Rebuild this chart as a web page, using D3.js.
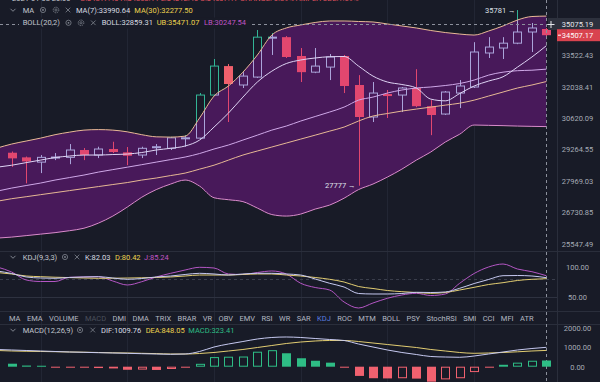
<!DOCTYPE html>
<html><head><meta charset="utf-8">
<script src="https://cdn.jsdelivr.net/npm/d3@7"></script>
<style>
html,body{margin:0;padding:0;background:#181b27;overflow:hidden}
svg{display:block;font-family:Roboto,"Noto Sans",sans-serif}
</style></head>
<body><svg id="c" width="600" height="382"></svg>
<script>
// ---------- DATA ----------
const opens  = [29130,28936,28738,28928,28936,29244,29033,29286,29147,29033,29358,29316,29729,29750,31655,33005,32117,32486,34388,34410,33488,32717,32957,33488,32117,30669,31701,31655,31978,31150,30801,31747,32024,33633,33875,34113,34666,34817];
const highs  = [29181,28970,29033,29117,29497,29328,29383,29594,29370,29383,29497,29805,29877,31747,33343,33102,32717,34767,34615,34463,33875,33875,33585,33537,32578,32255,31886,32024,32857,31421,31839,32347,34162,34410,34410,35781,35120,34868];
const lows   = [28541,27872,28287,28822,28653,28822,28906,29117,28611,28906,29033,29244,29383,29708,31609,30448,31978,32440,33537,33392,32255,32671,32347,31747,27777,30448,30624,30889,31105,29877,30757,31066,31978,33392,33343,34064,33681,34312];
const closes = [28894,28767,28936,28949,29244,29033,29286,29160,29003,29316,29383,29763,29763,31655,33005,32163,32532,34410,34410,33440,32717,33005,33440,32071,30669,31747,31609,31978,31150,30757,31793,32071,33681,33923,34113,34666,34868,34507.17];

// indicator series start one candle before the first visible candle
const ma7     = [28529,28610,28717,28822,28928,28991,29033,29033,29054,29075,29138,29244,29316,29413,29666,30227,30845,31562,32255,32763,33126,33295,33392,33454,33464,33005,32532,32255,32140,31978,31470,31392,31724,32071,32301,32500,32957,33440,33990.64];
const ma30    = [27163,27262,27340,27421,27501,27582,27663,27743,27824,27904,28005,28086,28187,28287,28449,28611,28822,29033,29202,29370,29539,29708,29877,30051,30227,30492,30713,30823,30933,31022,31110,31198,31285,31424,31609,31793,31978,32117,32277.50];
const bollMid = [27562,27683,27784,27884,28005,28106,28207,28328,28429,28529,28632,28738,28843,28949,29096,29286,29455,29666,29877,30095,30271,30492,30691,30889,31110,31424,31562,31747,31886,31978,32024,32093,32186,32347,32578,32717,32786,32809,32859.31];
const bollUp  = [29328,29497,29624,29750,29897,30007,30095,30117,30095,30020,29897,29805,29792,29834,30624,31609,32071,32717,33537,34514,34868,35019,35146,35222,35222,35196,35171,35070,34969,34868,34741,34640,34564,34514,34716,34969,35272,35449,35471.07];
const bollLow = [25757,25794,25849,25905,25960,26033,26126,26319,26588,26935,27320,27622,27844,28005,27763,27300,27222,27147,26897,26646,26588,26665,26858,27012,27282,27622,27844,28126,28449,28822,29160,29581,29918,30316,30302,30289,30271,30258,30247.54];

const kLine = [93.0,88.9,83.2,81.5,81.0,82.4,83.2,83.7,81.5,79.4,80.7,83.2,84.8,87.3,89.2,88.1,86.4,88.1,89.2,89.2,88.1,86.4,79.9,72.9,66.8,56.2,55.4,55.4,56.2,58.2,57.8,58.7,64.7,72.5,79.1,85.3,85.6,84.8,82.03];
const dLine = [90.5,88.1,84.8,83.7,82.8,82.2,81.5,81.0,81.2,81.5,81.9,82.4,83.2,84.8,86.4,86.4,86.4,87.3,88.1,88.1,86.4,84.8,82.4,79.4,75.0,67.6,64.4,61.1,59.2,57.8,56.5,57.8,61.9,66.3,70.9,73.9,77.5,79.4,80.42];
const jLine = [99.5,91.3,78.3,75.8,75.8,82.7,83.2,83.7,76.6,70.1,75.5,83.2,89.2,94.6,99.0,97.9,88.1,87.3,90.5,93.0,88.1,72.9,66.0,61.9,42.3,32.5,40.7,48.4,53.8,56.5,52.9,55.4,72.9,88.9,99.5,104.4,96.2,91.8,85.24];

const dif = [896,870,844,818,792,766,750,729,714,698,677,661,646,661,792,1026,1182,1312,1443,1521,1547,1521,1469,1417,1365,1182,1026,870,740,635,531,505,490,557,661,766,870,948,1009.76];
const dea = [844,818,802,792,781,766,755,740,724,714,698,682,661,661,688,740,818,896,1000,1104,1208,1286,1339,1365,1365,1312,1234,1156,1078,1000,896,818,740,698,714,740,776,818,848.05];
const macdHist = [156,60,50,-30,-40,-20,-70,-90,-160,-150,-170,-120,-40,150,500,520,530,780,860,700,440,310,210,-30,-480,-600,-610,-600,-620,-780,-660,-600,-280,-40,100,210,310,323.41];

const priceTicks = [35075.19,33522.43,32038.41,30620.09,29264.55,27969.03,26730.85,25547.49];
const kdjTicks = [100,50];
const macdTicks = [2000,1000,0];
const tabs = ["MA","EMA","VOLUME","MACD","DMI","DMA","TRIX","BRAR","VR","OBV","EMV","RSI","WR","SAR","KDJ","ROC","MTM","BOLL","PSY","StochRSI","SMI","CCI","MFI","ATR"];
const crossPrice = 35075.19, lastPrice = 34507.17;

// ---------- SETUP ----------
const BG = "#181b27";
const svg = d3.select("#c");
svg.append("rect").attr("width",600).attr("height",382).attr("fill",BG);
const defs = svg.append("defs");
const n = opens.length;
const idx = d3.range(n);
const xs = d3.scaleLinear().domain([0, n-1]).range([11.7, 546.4]);
const lx = (d,i) => xs(i-1);
const yP = d3.scaleLog().domain([25319, 36303]).range([250, 0]);
const yK = d3.scaleLinear().domain([50,100]).range([297.3,266.7]);
const yM = d3.scaleLinear().domain([0,2000]).range([366.7,328.3]);
const FS = 7.5;

defs.append("clipPath").attr("id","cMain").append("rect").attr("x",0).attr("y",0).attr("width",557).attr("height",251);
defs.append("clipPath").attr("id","cKdj").append("rect").attr("x",0).attr("y",252).attr("width",557).attr("height",59);
defs.append("clipPath").attr("id","cMacd").append("rect").attr("x",0).attr("y",325).attr("width",557).attr("height",57);

const bandArea = d3.area().x(lx).y0((d,i)=>yP(bollLow[i])).y1((d,i)=>yP(bollUp[i])).curve(d3.curveMonotoneX);
const aboveArea = d3.area().x(lx).y0(0).y1((d,i)=>yP(bollUp[i])).curve(d3.curveMonotoneX);
const belowArea = d3.area().x(lx).y0((d,i)=>yP(bollLow[i])).y1(251).curve(d3.curveMonotoneX);
const lastX = xs(n-1);
const cin = defs.append("clipPath").attr("id","cIn");
cin.append("path").attr("d", bandArea(bollUp));
cin.append("rect").attr("x",lastX).attr("y",yP(bollUp[n])).attr("width",12).attr("height",yP(bollLow[n])-yP(bollUp[n]));
const cout = defs.append("clipPath").attr("id","cOut");
cout.append("path").attr("d", aboveArea(bollUp));
cout.append("path").attr("d", belowArea(bollUp));

// ---------- GRID ----------
const grid = svg.append("g");
[2,8,14,20,26,32].forEach(i=>{
  const x = Math.round(xs(i))+0.5;
  grid.append("line").attr("x1",x).attr("x2",x).attr("y1",0).attr("y2",382).attr("stroke","#222634").attr("stroke-width",1);
});
[251.5,311.5,324.5].forEach(y=>{
  grid.append("line").attr("x1",0).attr("x2",600).attr("y1",y).attr("y2",y).attr("stroke","#2a2e3b");
});
grid.append("line").attr("x1",557.5).attr("x2",557.5).attr("y1",0).attr("y2",382).attr("stroke","#2a2e3b");
grid.append("line").attr("x1",0).attr("x2",557).attr("y1",Math.round(yK(50))+0.5).attr("y2",Math.round(yK(50))+0.5).attr("stroke","#2e3240");
grid.append("line").attr("x1",0).attr("x2",557).attr("y1",Math.round(yK(80))+0.5).attr("y2",Math.round(yK(80))+0.5).attr("stroke","#3a3e4c").attr("stroke-dasharray","3,3");

// ---------- MAIN PANEL ----------
const main = svg.append("g").attr("clip-path","url(#cMain)");
main.append("path").attr("d", bandArea(bollUp)).attr("fill","#48195a");

function drawCandles(g, upC, downC){
  idx.forEach(i=>{
    const cx = Math.round(xs(i))+0.5, o=opens[i], c=closes[i], up = c>=o;
    const yt = yP(Math.max(o,c)), yb = yP(Math.min(o,c));
    const h = Math.max(1, yb-yt);
    const col = up?upC:downC;
    if(up){
      g.append("line").attr("x1",cx).attr("x2",cx).attr("y1",yP(highs[i])).attr("y2",yt).attr("stroke",col);
      g.append("line").attr("x1",cx).attr("x2",cx).attr("y1",yt+h).attr("y2",yP(lows[i])).attr("stroke",col);
      g.append("rect").attr("x",cx-4).attr("y",yt).attr("width",8).attr("height",h).attr("fill","none").attr("stroke",col);
    } else {
      g.append("line").attr("x1",cx).attr("x2",cx).attr("y1",yP(highs[i])).attr("y2",yP(lows[i])).attr("stroke",col);
      g.append("rect").attr("x",cx-4.5).attr("y",yt).attr("width",9).attr("height",h).attr("fill",col);
    }
  });
}
drawCandles(main.append("g").attr("clip-path","url(#cIn)"), "#aaa4da", "#e2476f");
drawCandles(main.append("g").attr("clip-path","url(#cOut)"), "#33b596", "#f0606c");

const lineGen = arr => d3.line().x(lx).y((d,i)=>yP(arr[i])).curve(d3.curveMonotoneX)(arr);
[[bollLow,"#d98bcb"],[bollUp,"#e9b996"],[ma30,"#e6b894"],[bollMid,"#cfa8e8"],[ma7,"#ded4f4"]].forEach(([a,c])=>{
  main.append("path").attr("d", lineGen(a)).attr("fill","none").attr("stroke",c).attr("stroke-width",1);
});

// annotations
main.append("text").attr("x",xs(35)-2).attr("y",yP(highs[35])+3).attr("text-anchor","end")
  .attr("font-size",FS).attr("fill","#dfe2e8").text("35781 →");
main.append("text").attr("x",xs(24)-3).attr("y",yP(lows[24])+2).attr("text-anchor","end")
  .attr("font-size",FS).attr("fill","#dfe2e8").text("27777 →");

// crosshair
const cy = Math.round(yP(crossPrice))+0.5;
svg.append("line").attr("x1",0).attr("x2",548).attr("y1",cy).attr("y2",cy).attr("stroke","#8c909c").attr("stroke-dasharray","3,3");
svg.append("line").attr("x1",Math.round(lastX)+0.5).attr("x2",Math.round(lastX)+0.5).attr("y1",0).attr("y2",382).attr("stroke","#8c909c").attr("stroke-dasharray","3,3");

// ---------- PRICE AXIS ----------
svg.append("rect").attr("x",548).attr("y",cy-6.5).attr("width",52).attr("height",12).attr("fill","#2d313d");
const ly = yP(lastPrice);
svg.append("rect").attr("x",557).attr("y",ly-6).attr("width",43).attr("height",12).attr("fill","#d9434f");
svg.append("line").attr("x1",558).attr("x2",561).attr("y1",ly).attr("y2",ly).attr("stroke","#fff");
const axP = svg.append("g").attr("transform","translate(577.5,0)")
  .call(d3.axisRight(yP).tickValues(priceTicks).tickFormat(d3.format(".2f")).tickSize(0).tickPadding(0));
axP.select(".domain").remove();
axP.selectAll("text").attr("x",0).attr("text-anchor","middle").attr("font-size",FS).attr("font-family","Roboto")
  .attr("fill",d=>d===crossPrice?"#e6e8ec":"#a6abb6");
svg.append("text").attr("x",577.5).attr("y",ly).attr("dy","0.32em").attr("text-anchor","middle")
  .attr("font-size",FS).attr("fill","#ffffff").text(d3.format(".2f")(lastPrice));
// plus marker
svg.append("path").attr("d",`M547.5,${cy}h7M551,${cy-3.5}v7`).attr("stroke","#e6e8ec").attr("stroke-width",1);

// ---------- LEGEND HELPERS ----------
function txt(x,y,s,c){ return svg.append("text").attr("x",x).attr("y",y).attr("dy","0.35em").attr("font-size",FS).attr("fill",c).text(s); }
function chevron(x,y){ svg.append("path").attr("d",`M${x-2.5},${y-1.2}L${x},${y+1.3}L${x+2.5},${y-1.2}`).attr("fill","none").attr("stroke","#80858f"); }
function eye(x,y){ svg.append("circle").attr("cx",x).attr("cy",y).attr("r",2.6).attr("fill","none").attr("stroke","#80858f").attr("stroke-width",0.8);
  svg.append("circle").attr("cx",x).attr("cy",y).attr("r",0.9).attr("fill","#80858f"); }
function gear(x,y){ svg.append("circle").attr("cx",x).attr("cy",y).attr("r",2.8).attr("fill","none").attr("stroke","#80858f").attr("stroke-width",0.9).attr("stroke-dasharray","1.3,0.9");
  svg.append("circle").attr("cx",x).attr("cy",y).attr("r",1.1).attr("fill","none").attr("stroke","#80858f").attr("stroke-width",0.7); }
function cross(x,y){ svg.append("path").attr("d",`M${x-2.3},${y-2.3}L${x+2.3},${y+2.3}M${x+2.3},${y-2.3}L${x-2.3},${y+2.3}`).attr("stroke","#80858f").attr("stroke-width",0.8); }

const LBL = "#c3c7cf", WHT = "#d9dce2", YEL = "#eed34f", PUR = "#c055c6", TEAL = "#2ebd85";

// top cut-off info row
txt(12,-1.5,"2021-01-08 20:00", "#c3c7cf");
txt(80,-1.5,"O:34817.40  H:34868.11  L:34312.40  C:34507.17  CHANGE:-0.89%  AMPLITUDE:1.59%", "#e0525f");

// main legend
chevron(13,10); txt(22.7,10,"MA",LBL); eye(43,10); gear(56,10); cross(68,10);
txt(76,10,"MA(7):33990.64",WHT); txt(134.3,10,"MA(30):32277.50",YEL);
svg.append("rect").attr("x",19).attr("y",17.5).attr("width",230).attr("height",11).attr("fill",BG);
txt(22.7,22.8,"BOLL(20,2)",LBL); eye(68.5,22.8); gear(81,22.8); cross(93.3,22.8);
txt(101.7,22.8,"BOLL:32859.31",WHT); txt(156.7,22.8,"UB:35471.07",YEL); txt(204,22.8,"LB:30247.54",PUR);

// ---------- KDJ ----------
const kdj = svg.append("g").attr("clip-path","url(#cKdj)");
const kGen = arr => d3.line().x(lx).y((d,i)=>yK(arr[i])).curve(d3.curveMonotoneX)(arr);
[[jLine,"#b456c4"],[dLine,"#e2cd72"],[kLine,"#c6c9f0"]].forEach(([a,c])=>{
  kdj.append("path").attr("d",kGen(a)).attr("fill","none").attr("stroke",c).attr("stroke-width",1);
});
chevron(13,257); txt(22.7,257,"KDJ(9,3,3)",LBL); eye(65,257); cross(77,257);
txt(85,257,"K:82.03",WHT); txt(115,257,"D:80.42",YEL); txt(144,257,"J:85.24",PUR);
const axK = svg.append("g").attr("transform","translate(577.5,0)")
  .call(d3.axisRight(yK).tickValues(kdjTicks).tickFormat(d3.format(".2f")).tickSize(0).tickPadding(0));
axK.select(".domain").remove();
axK.selectAll("text").attr("x",0).attr("text-anchor","middle").attr("font-size",FS).attr("font-family","Roboto").attr("fill","#a6abb6");

// ---------- TABS ----------
const tg = svg.append("g");
const tnodes = tabs.map(t=>tg.append("text").attr("y",318.5).attr("dy","0.35em").attr("font-size",FS)
  .attr("fill", t==="MACD"?"#4b505c":(t==="KDJ"?"#5b7fe0":"#b3b8c2")).text(t));
const widths = tnodes.map(s=>s.node().getComputedTextLength());
const gap = (520-9-d3.sum(widths.slice(0,-1)))/(tabs.length-1);
let tx = 9;
tnodes.forEach((s,i)=>{ s.attr("x",tx); tx += widths[i]+gap; });

// ---------- MACD ----------
const mg = svg.append("g").attr("clip-path","url(#cMacd)");
idx.forEach(i=>{
  const v = macdHist[i], prev = i>0?macdHist[i-1]:Infinity;
  const filled = v<prev || i===n-1;
  const col = v>=0 ? "#2ebd85" : "#f0616f";
  const y0 = yM(0), y1 = yM(v);
  const top = Math.min(y0,y1), h = Math.max(1, Math.abs(y1-y0));
  const cx = Math.round(xs(i))+0.5;
  if(filled || h<=1.5){
    mg.append("rect").attr("x",cx-4.5).attr("y",top).attr("width",9).attr("height",h).attr("fill",col);
  } else {
    mg.append("rect").attr("x",cx-4).attr("y",top+0.5).attr("width",8).attr("height",h-1).attr("fill","none").attr("stroke",col);
  }
});
const mGen = arr => d3.line().x(lx).y((d,i)=>yM(arr[i])).curve(d3.curveMonotoneX)(arr);
[[dea,"#e2cd72"],[dif,"#c6c9f0"]].forEach(([a,c])=>{
  mg.append("path").attr("d",mGen(a)).attr("fill","none").attr("stroke",c).attr("stroke-width",1);
});
chevron(13,330); txt(22.7,330,"MACD(12,26,9)",LBL); eye(80,330); cross(92.7,330);
txt(101,330,"DIF:1009.76",WHT); txt(145.7,330,"DEA:848.05",YEL); txt(188.3,330,"MACD:323.41",TEAL);
const axM = svg.append("g").attr("transform","translate(577.5,0)")
  .call(d3.axisRight(yM).tickValues(macdTicks).tickFormat(d3.format(".2f")).tickSize(0).tickPadding(0));
axM.select(".domain").remove();
axM.selectAll("text").attr("x",0).attr("text-anchor","middle").attr("font-size",FS).attr("font-family","Roboto").attr("fill","#a6abb6");
</script>
</body></html>
